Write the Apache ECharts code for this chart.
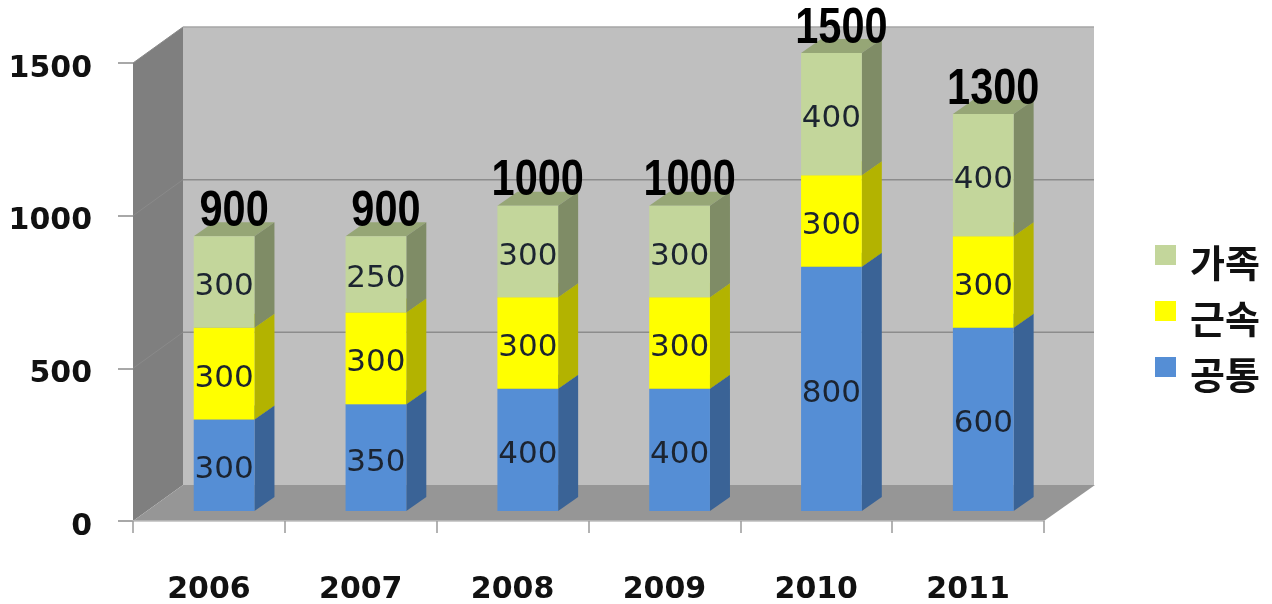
<!DOCTYPE html>
<html>
<head>
<meta charset="utf-8">
<title>chart</title>
<script src="https://cdn.jsdelivr.net/npm/echarts@6/dist/echarts.min.js"></script>
<style>
	html, body { margin: 0; padding: 0; background: #fff; }
	#main { width: 1272px; height: 604px; }
</style>
</head>
<body>
<div id="main"></div>
<script>
	var years = ['2006', '2007', '2008', '2009', '2010', '2011'];
	var common = [300, 350, 400, 400, 800, 600];
	var tenure = [300, 300, 300, 300, 300, 300];
	var family = [300, 250, 300, 300, 400, 400];
	var totals = [900, 900, 1000, 1000, 1500, 1300];
	var yTicks = [0, 500, 1000, 1500];

	// 3D look: depth of the box and of each bar
	var wallDx = 50, wallDy = -36;
	var barDx = 20, barDy = -14;
	var floorLift = -10;

	var myChart = echarts.init(document.getElementById('main'));

	function poly(points, color) {
		return {type: 'polygon', shape: {points: points}, style: {fill: color}};
	}

	function line(points, color, width) {
		return {type: 'polyline', shape: {points: points}, style: {fill: null, stroke: color, lineWidth: width}};
	}

	function renderWalls(params, api) {
		var cs = params.coordSys;
		var l = cs.x, r = cs.x + cs.width, t = cs.y, b = cs.y + cs.height;
		var children = [
			poly([[l, b], [l, t], [l + wallDx, t + wallDy], [l + wallDx, b + wallDy]], '#7f7f7f'),
			poly([[l + wallDx, t + wallDy], [r + wallDx, t + wallDy], [r + wallDx, b + wallDy], [l + wallDx, b + wallDy]], '#bfbfbf'),
			poly([[l, b], [l + wallDx, b + wallDy], [r + wallDx + 1, b + wallDy], [r, b]], '#969696')
		];
		yTicks.forEach(function (tick) {
			var y = api.coord([0, tick])[1];
			if (tick === 0) return;
			children.push(line([[l, y], [l + wallDx, y + wallDy]], '#8a8a8a', 1));
			children.push(line([[l + wallDx, y + wallDy], [r + wallDx, y + wallDy]], tick === 1500 ? '#a6a6a6' : '#8c8c8c', 1.5));
		});
		return {type: 'group', children: children};
	}

	function renderSegment(front, side, top) {
		return function (params, api) {
			var band = api.size([1, 0])[0];
			var c = api.coord([api.value(0), api.value(1)]);
			var e = api.coord([api.value(0), api.value(2)]);
			var x0 = c[0] - band / 2 + band * 0.4;
			var x1 = x0 + band * 0.4;
			var y0 = c[1] + floorLift;
			var y1 = e[1] + floorLift;
			return {
				type: 'group',
				children: [
					poly([[x0, y1], [x0 + barDx, y1 + barDy], [x1 + barDx, y1 + barDy], [x1, y1]], top),
					poly([[x1, y0], [x1 + barDx, y0 + barDy], [x1 + barDx, y1 + barDy], [x1, y1]], side),
					poly([[x0, y0], [x1, y0], [x1, y1], [x0, y1]], front),
					{
						type: 'text',
						style: {
							x: (x0 + x1) / 2,
							y: (y0 + y1) / 2 + 5,
							text: String(api.value(2) - api.value(1)),
							fill: '#1c2430',
							font: '31px "DejaVu Sans"',
							align: 'center',
							verticalAlign: 'middle'
						}
					}
				]
			};
		};
	}

	function renderTotal(params, api) {
		var band = api.size([1, 0])[0];
		var p = api.coord([api.value(0), api.value(1)]);
		return {
			type: 'text',
			x: p[0] - band / 2 + band * 0.6 + barDx / 2,
			y: p[1] + floorLift - 24,
			scaleX: 0.83,
			style: {
				x: 0,
				y: 0,
				text: String(api.value(1)),
				fill: '#000',
				font: 'bold 50px "Liberation Sans"',
				align: 'center',
				verticalAlign: 'middle'
			}
		};
	}

	function segments(values, bases) {
		return values.map(function (v, i) {
			return [i, bases[i], bases[i] + v];
		});
	}

	var tenureBase = common.map(function (v, i) { return v; });
	var familyBase = common.map(function (v, i) { return v + tenure[i]; });
	var zeroBase = common.map(function () { return 0; });

	myChart.setOption({
		animation: false,
		backgroundColor: '#fff',
		grid: {left: 133, right: 228, top: 63, bottom: 83, outerBoundsMode: 'none'},
		legend: {
			left: 1150,
			top: 223,
			orient: 'vertical',
			itemWidth: 21,
			itemHeight: 20,
			itemGap: 2,
			icon: 'rect',
			data: ['가족', '근속', '공통'],
			formatter: function (name) {
				return '{a|' + name + '}';
			},
			textStyle: {
				rich: {
					a: {
						color: '#111',
						fontFamily: '"Noto Sans CJK KR"',
						fontWeight: 'bold',
						fontSize: 38,
						lineHeight: 38,
						padding: [16, 0, 0, 9]
					}
				}
			}
		},
		xAxis: {
			type: 'category',
			data: years,
			z: 3,
			axisLine: {lineStyle: {color: '#bdbdbd', width: 1.5}},
			axisTick: {show: true, length: 12, lineStyle: {color: '#9a9a9a', width: 1.5}},
			axisLabel: {
				margin: 54,
				color: '#111',
				fontFamily: '"DejaVu Sans"',
				fontWeight: 'bold',
				fontSize: 30
			}
		},
		yAxis: {
			type: 'value',
			min: 0,
			max: 1500,
			interval: 500,
			z: 1,
			splitLine: {show: false},
			axisLine: {show: false},
			axisTick: {show: true, length: 15, lineStyle: {color: '#8c8c8c', width: 1.5}},
			axisLabel: {
				margin: 41,
				formatter: function (value) {
					return '{a|' + value + '}';
				},
				rich: {
					a: {
						color: '#111',
						fontFamily: '"DejaVu Sans"',
						fontWeight: 'bold',
						fontSize: 30,
						padding: [12, 0, 0, 0]
					}
				}
			}
		},
		series: [
			{type: 'custom', z: 2, renderItem: renderWalls, data: [[0]], silent: true},
			{
				name: '공통', type: 'custom', z: 4,
				itemStyle: {color: '#558ed5'},
				encode: {x: 0, y: [1, 2]},
				renderItem: renderSegment('#558ed5', '#3a6396', '#3a6396'),
				data: segments(common, zeroBase)
			},
			{
				name: '근속', type: 'custom', z: 5,
				itemStyle: {color: '#ffff00'},
				encode: {x: 0, y: [1, 2]},
				renderItem: renderSegment('#ffff00', '#b3b300', '#b3b300'),
				data: segments(tenure, tenureBase)
			},
			{
				name: '가족', type: 'custom', z: 6,
				itemStyle: {color: '#c3d69b'},
				encode: {x: 0, y: [1, 2]},
				renderItem: renderSegment('#c3d69b', '#7f8c66', '#96a676'),
				data: segments(family, familyBase)
			},
			{
				type: 'custom', z: 7,
				encode: {x: 0, y: 1},
				renderItem: renderTotal,
				data: totals.map(function (v, i) { return [i, v]; })
			}
		]
	});
</script>
</body>
</html>
